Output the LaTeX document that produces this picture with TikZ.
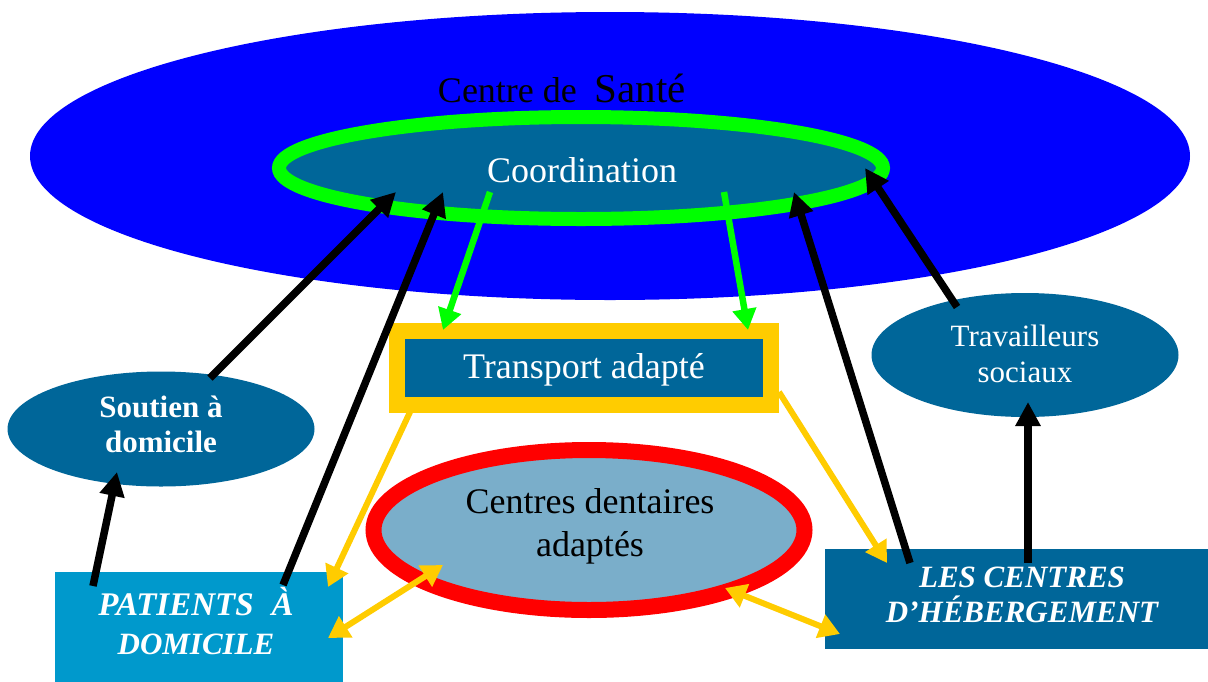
\documentclass[tikz,border=0pt]{standalone}
\usepackage{fontspec}
\setmainfont{Liberation Serif}
\usetikzlibrary{shapes.geometric,arrows.meta}
\definecolor{sblue}{RGB}{0,0,255}
\definecolor{teal}{RGB}{0,102,153}
\definecolor{lgreen}{RGB}{0,255,0}
\definecolor{ygold}{RGB}{255,204,0}
\definecolor{dent}{RGB}{122,174,202}
\definecolor{pat}{RGB}{0,153,204}
\tikzset{
  ell/.style={ellipse, inner sep=0pt},
  blk/.style={draw=black, line width=7.5pt, -{Triangle[length=24pt,width=24pt]}},
  grn/.style={draw=lgreen, line width=6.5pt, -{Triangle[length=21pt,width=23pt]}},
  yel/.style={draw=ygold, line width=6pt, -{Triangle[length=21pt,width=24pt]}},
  yel2/.style={draw=ygold, line width=6pt, {Triangle[length=21pt,width=24pt]}-{Triangle[length=21pt,width=24pt]}},
  lbl/.style={inner sep=0pt, align=center}
}
\begin{document}
\begin{tikzpicture}[x=1pt,y=-1pt]
\useasboundingbox (0,0) rectangle (1208,681);
\fill[white] (0,0) rectangle (1208,681);
% big ellipse
\node[ell, fill=sblue, minimum width=1160pt, minimum height=288pt] (sante) at (610,156) {};
\node[lbl, font=\fontsize{36}{40}\selectfont] (santet) at (562,88) {Centre de\ \ {\fontsize{41}{40}\selectfont Santé}};
% coordination
\node[ell, fill=teal, draw=lgreen, line width=14pt, minimum width=604pt, minimum height=102pt] (coord) at (581,168) {};
\node[lbl, text=white, font=\fontsize{36}{40}\selectfont] (coordt) at (582,170) {Coordination};
% transport
\node[draw=ygold, fill=teal, line width=16pt, minimum width=374pt, minimum height=74pt, inner sep=0pt] (trans) at (584,368) {};
\node[lbl, text=white, font=\fontsize{36}{40}\selectfont] (transt) at (584,370) {Transport adapté};
% dental
\node[ell, fill=dent, draw=red, line width=16pt, minimum width=431pt, minimum height=160pt] (dent) at (589,530) {};
\node[lbl, font=\fontsize{36}{43}\selectfont] (dentt) at (590,526) {Centres dentaires\\adaptés};
% soutien
\node[ell, fill=teal, minimum width=307pt, minimum height=115pt] (sout) at (161,429) {};
\node[lbl, text=white, font=\bfseries\fontsize{31}{35}\selectfont] (soutt) at (161,424) {Soutien à\\domicile};
% travailleurs
\node[ell, fill=teal, minimum width=307pt, minimum height=124pt] (trav) at (1025,355) {};
\node[lbl, text=white, font=\fontsize{31}{36}\selectfont] (travt) at (1025,354) {Travailleurs\\sociaux};
% patients
\node[fill=pat, minimum width=288pt, minimum height=120pt, inner sep=0pt, anchor=north west] (pati) at (55,572) {};
\node[lbl, text=white, font=\bfseries\itshape\fontsize{31}{39}\selectfont] (patit) at (196,621) {{\fontsize{33}{39}\selectfont PATIENTS\hspace{18pt}À}\\DOMICILE};
% hebergement
\node[fill=teal, minimum width=384pt, minimum height=100pt, inner sep=0pt, anchor=north west] (heb) at (825,549) {};
\node[lbl, text=white, font=\bfseries\itshape\fontsize{31}{35}\selectfont] (hebt) at (1022,595) {LES CENTRES\\D’HÉBERGEMENT};
% arrow end points
\coordinate (a1s) at (210,378); \coordinate (a1e) at (396,192);
\coordinate (a2s) at (283,585); \coordinate (a2e) at (443,192);
\coordinate (a3s) at (93,586);  \coordinate (a3e) at (117,472);
\coordinate (a4s) at (910,563); \coordinate (a4e) at (794,192);
\coordinate (a5s) at (1028,563); \coordinate (a5e) at (1028,402);
\coordinate (a6s) at (957,307); \coordinate (a6e) at (865,168);
\coordinate (g1s) at (490,192); \coordinate (g1e) at (443,330);
\coordinate (g2s) at (724,192); \coordinate (g2e) at (748,330);
\coordinate (y1s) at (410,412); \coordinate (y1e) at (328,587);
\coordinate (y2s) at (779,392); \coordinate (y2e) at (887,563);
\coordinate (y3s) at (328,638); \coordinate (y3e) at (443,565);
\coordinate (y4s) at (725,588); \coordinate (y4e) at (840,634);
% arrows
\draw[grn] (g1s) -- (g1e);
\draw[grn] (g2s) -- (g2e);
\draw[yel] (y1s) -- (y1e);
\draw[yel] (y2s) -- (y2e);
\draw[yel2] (y3s) -- (y3e);
\draw[yel2] (y4s) -- (y4e);
\draw[blk] (a1s) -- (a1e);
\draw[blk] (a2s) -- (a2e);
\draw[blk] (a3s) -- (a3e);
\draw[blk] (a4s) -- (a4e);
\draw[blk] (a5s) -- (a5e);
\draw[blk] (a6s) -- (a6e);
\end{tikzpicture}
\end{document}
